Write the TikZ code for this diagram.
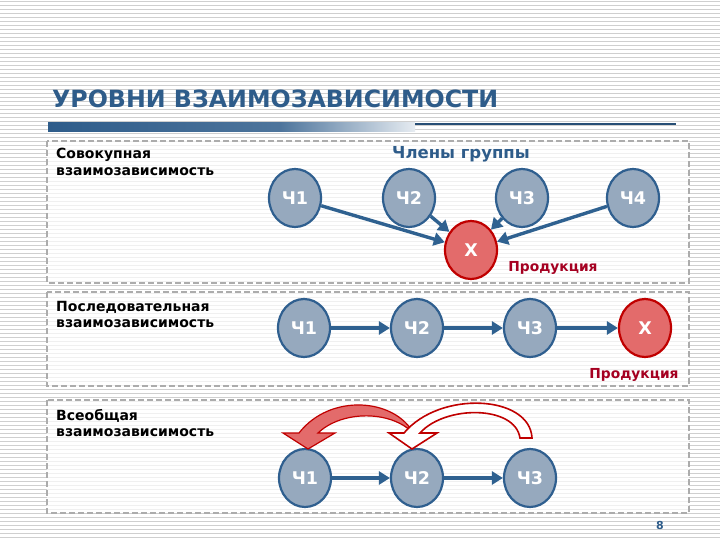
\documentclass[tikz,border=0pt]{standalone}
\usepackage{fontspec}
\setmainfont{DejaVu Sans}
\usetikzlibrary{arrows.meta,shapes.geometric}
\definecolor{tblue}{HTML}{2E5C8A}
\definecolor{cfill}{HTML}{96A9BE}
\definecolor{cedge}{HTML}{2F5F8F}
\definecolor{rfill}{HTML}{E36B6B}
\definecolor{redge}{HTML}{C00000}
\definecolor{prod}{HTML}{A50021}
\definecolor{abl}{HTML}{2F6190}
\definecolor{bgl}{HTML}{CFCFCF}
\begin{document}
\begin{tikzpicture}[x=1pt,y=-1pt,
 member/.style={ellipse, draw=cedge, line width=2.2pt, fill=cfill, minimum width=52pt, minimum height=58pt, inner sep=0pt, text=white, font=\bfseries\fontsize{17.5}{17.5}\selectfont},
 outnode/.style={member, draw=redge, fill=rfill},
 link/.style={draw=abl, line width=3.4pt, -{Triangle[length=11pt,width=13pt]}},
 panel/.style={draw=gray!65, dash pattern=on 6pt off 3pt, line width=1.3pt, fill=white, fill opacity=0.7},
 lbl/.style={anchor=north west, inner sep=0pt, align=left, font=\bfseries\fontsize{14}{16.5}\selectfont, text=black},
 prodlbl/.style={text=prod, font=\bfseries\fontsize{13.8}{13.8}\selectfont},
 bgline/.style={draw=bgl, line width=0.7pt}
]
\useasboundingbox (0,0) rectangle (720,540);
\fill[white] (0,0) rectangle (720,540);
\foreach \yy in {1,5,...,537} \draw[bgline] (0,\yy) -- (720,\yy);

% title
\node[anchor=base west, inner sep=0pt, text=tblue, font=\bfseries\fontsize{23.7}{23.7}\selectfont] (title) at (52,108) {УРОВНИ ВЗАИМОЗАВИСИМОСТИ};
\shade[left color=tblue, right color=tblue!85!white] (48,123) rectangle (280,132);
\shade[left color=tblue!85!white, right color=tblue!12!white] (280,123) rectangle (415,132);
\draw[tblue!85!black, line width=1.2pt] (415,124) -- (676,124);

% panels
\draw[panel] (47,141) rectangle (689,283);
\draw[panel] (47,292) rectangle (689,386);
\draw[panel] (47,400) rectangle (689,513);

% panel 1
\node[lbl] (l1) at (56,148) {Совокупная\\взаимозависимость};
\node[text=tblue, font=\bfseries\fontsize{16.5}{16.5}\selectfont] (members) at (461,154) {Члены группы};
\node[member] (c11) at (295,198) {Ч1};
\node[member] (c12) at (409,198) {Ч2};
\node[member] (c13) at (522,198) {Ч3};
\node[member] (c14) at (633,198) {Ч4};
\node[outnode] (x1) at (471,250) {X};
\node[prodlbl] (p1) at (553,268) {Продукция};
\draw[link] (c11) -- (x1);
\draw[link] (c12) -- (x1);
\draw[link] (c13) -- (x1);
\draw[link] (c14) -- (x1);

% panel 2
\node[lbl] (l2) at (56,301) {Последовательная\\взаимозависимость};
\node[member] (c21) at (304,328) {Ч1};
\node[member] (c22) at (417,328) {Ч2};
\node[member] (c23) at (530,328) {Ч3};
\node[outnode] (x2) at (645,328) {X};
\node[prodlbl] (p2) at (634,375) {Продукция};
\draw[link] (c21) -- (c22);
\draw[link] (c22) -- (c23);
\draw[link] (c23) -- (x2);

% panel 3
\node[lbl] (l3) at (56,409) {Всеобщая\\взаимозависимость};
\node[member] (c31) at (305,478) {Ч1};
\node[member] (c32) at (417,478) {Ч2};
\node[member] (c33) at (530,478) {Ч3};
\draw[link] (c31) -- (c32);
\draw[link] (c32) -- (c33);
% curved feedback arrows
\draw[redge, line width=1.2pt, fill=rfill] (414,434) .. controls (395,398) and (330,393) .. (299,433) -- (283,433) -- (308,449) -- (335,433) -- (318,433) .. controls (342,410) and (392,410) .. (414,434) -- cycle;
\draw[redge, line width=1.6pt, fill=white] (532,438) .. controls (530,395) and (440,390) .. (404,433) -- (389,433) -- (412,449) -- (437,433) -- (420,433) .. controls (445,405) and (515,405) .. (520,438) -- cycle;

\node[text=tblue, font=\bfseries\fontsize{11}{11}\selectfont] (pg) at (660,525) {8};
\end{tikzpicture}
\end{document}
